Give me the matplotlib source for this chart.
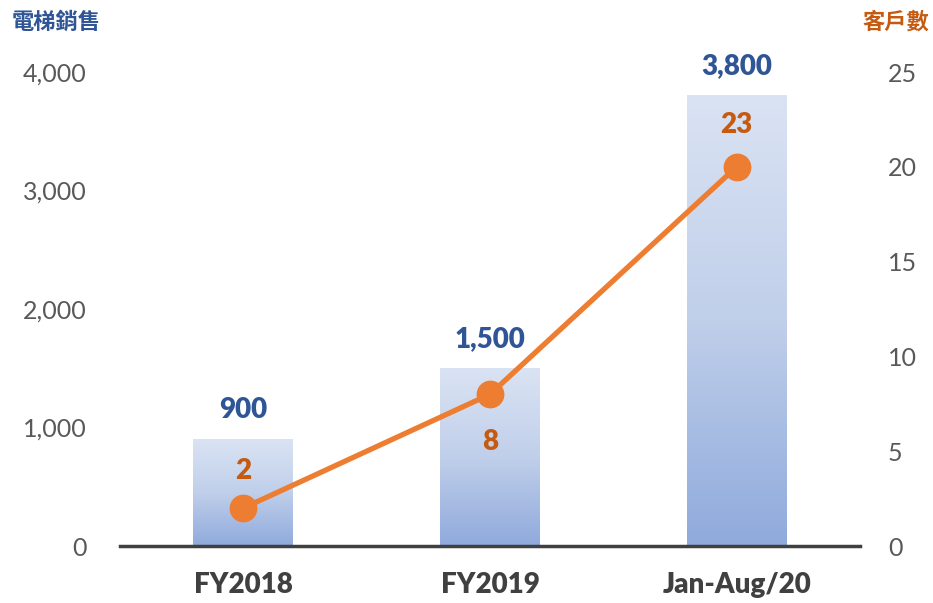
import matplotlib
matplotlib.use("Agg")
import matplotlib.pyplot as plt
import numpy as np
from matplotlib.colors import LinearSegmentedColormap

categories = ["FY2018", "FY2019", "Jan-Aug/20"]
sales = [900, 1500, 3800]
sales_labels = ["900", "1,500", "3,800"]
customers = [2, 8, 20]
customer_labels = ["2", "8", "23"]
left_ticks = [0, 1000, 2000, 3000, 4000]
left_ticklabels = ["0", "1,000", "2,000", "3,000", "4,000"]
right_ticks = [0, 5, 10, 15, 20, 25]

plt.rcParams['font.family'] = ['Lato', 'DejaVu Sans']

fig = plt.figure(figsize=(9.33, 6.03), dpi=100)
ax = fig.add_axes([120/933, 1-546/603, 740/933, (546-72)/603])
ax2 = ax.twinx()

x = np.arange(len(categories))
bw = 0.405
cmap = LinearSegmentedColormap.from_list("g", ["#8faadc", "#c0cfea", "#dae3f3"])
grad = np.linspace(0, 1, 256).reshape(-1, 1)
for xi, v in zip(x, sales):
    ax.imshow(grad, extent=[xi - bw/2, xi + bw/2, 0, v], origin='lower',
              aspect='auto', cmap=cmap, zorder=1)
ax.set_xlim(-0.5, 2.5)
ax.set_ylim(0, 4000)

for xi, v, lab in zip(x, sales, sales_labels):
    ax.annotate(lab, (xi, v), xytext=(0, 21), textcoords='offset points',
                ha='center', va='center', fontsize=20, fontweight='heavy',
                color='#2f5597')

ax2.plot(x, customers, color='#ed7d31', lw=3.8, marker='o', markersize=19,
         zorder=3)
ax2.set_ylim(0, 25)
offsets = [27, -34, 30]
for xi, v, lab, off in zip(x, customers, customer_labels, offsets):
    ax2.annotate(lab, (xi, v), xytext=(0, off), textcoords='offset points',
                 ha='center', va='center', fontsize=20, fontweight='heavy',
                 color='#c55a11')

for s in ['top', 'left', 'right']:
    ax.spines[s].set_visible(False)
    ax2.spines[s].set_visible(False)
ax2.spines['bottom'].set_visible(False)
ax.spines['bottom'].set_color('#404040')
ax.spines['bottom'].set_linewidth(2.5)
ax.spines['bottom'].set_zorder(5)

ax.set_xticks(x)
ax.set_xticklabels(categories, fontsize=20, fontweight='heavy', color='#404040')
ax.tick_params(axis='x', length=0, pad=19)
ax.set_yticks(left_ticks)
ax.set_yticklabels(left_ticklabels, fontsize=18, color='#595959')
ax.tick_params(axis='y', length=0, pad=24)
ax2.set_yticks(right_ticks)
ax2.set_yticklabels([str(t) for t in right_ticks], fontsize=18, color='#595959')
ax2.tick_params(axis='y', length=0, pad=20)

fig.text(12/933, 1-22/603, "電梯銷售", fontsize=16, fontweight='bold',
         color='#2f5597', ha='left', va='center',
         family=['Noto Sans CJK TC', 'DejaVu Sans'])
fig.text(929/933, 1-22/603, "客戶數", fontsize=16, fontweight='bold',
         color='#c55a11', ha='right', va='center',
         family=['Noto Sans CJK TC', 'DejaVu Sans'])

fig.savefig("out.png", dpi=100)
